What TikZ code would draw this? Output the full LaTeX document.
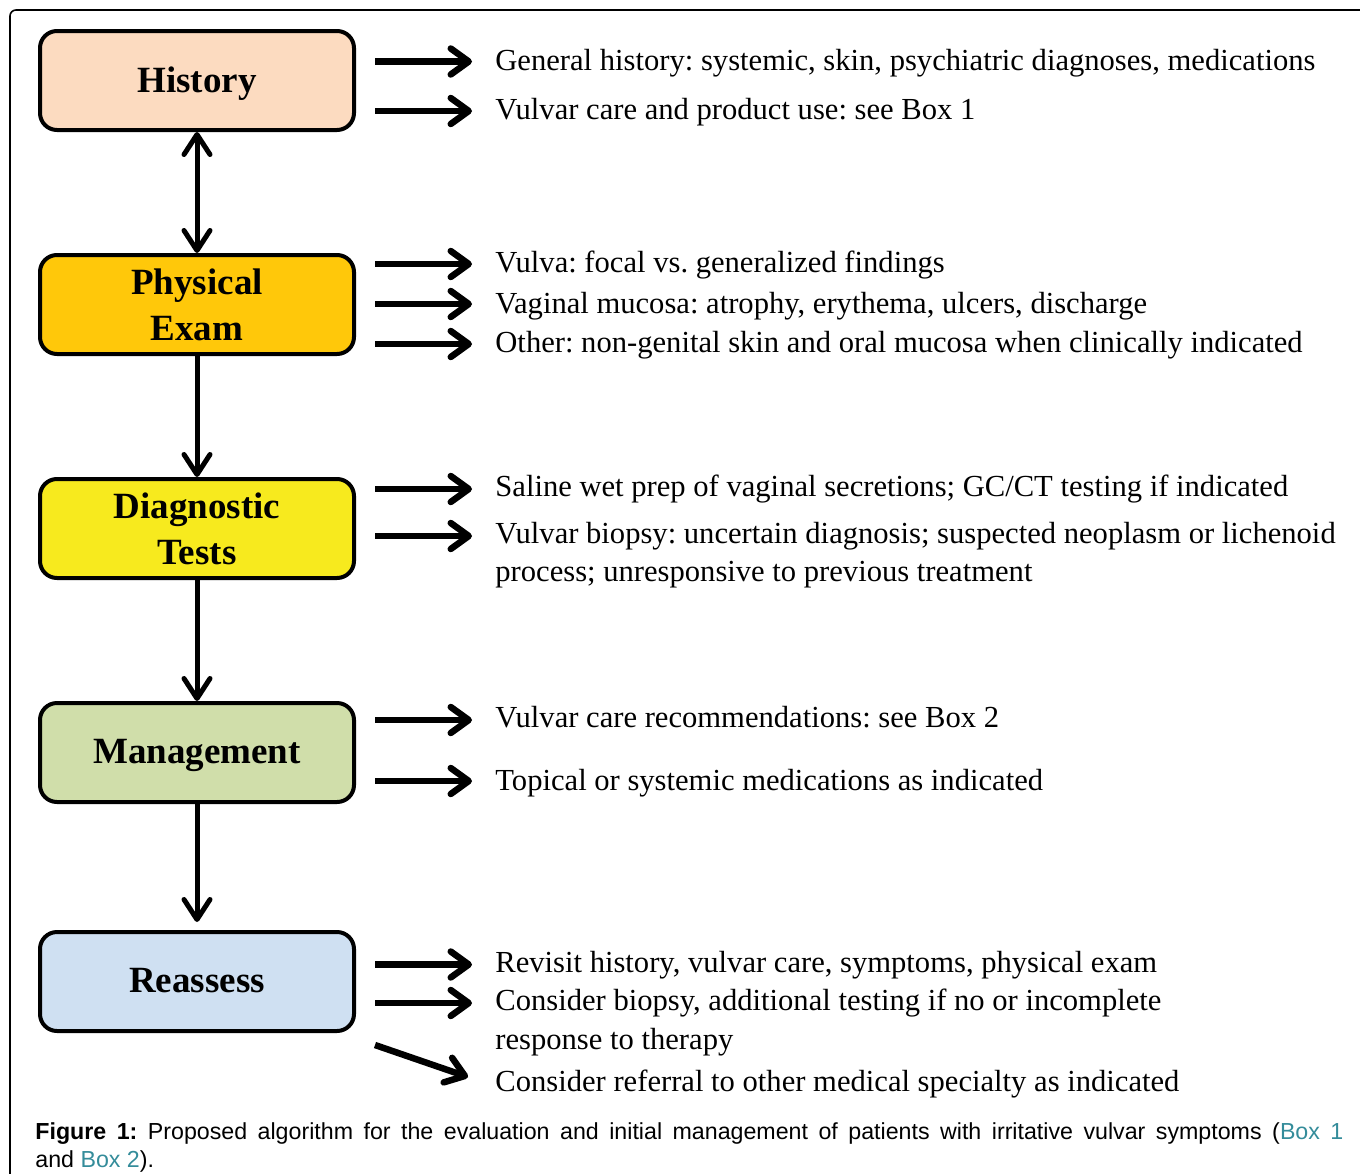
\documentclass[tikz,border=0pt]{standalone}
\usepackage{fontspec}
\setmainfont{Liberation Serif}
\newfontfamily\capfont{Liberation Sans}
\usetikzlibrary{arrows.meta}
\frenchspacing
\definecolor{histfill}{RGB}{252,219,192}
\definecolor{physfill}{RGB}{255,200,10}
\definecolor{diagfill}{RGB}{247,234,30}
\definecolor{mgmtfill}{RGB}{208,222,170}
\definecolor{reasfill}{RGB}{207,224,242}
\definecolor{boxlink}{RGB}{52,140,154}
\begin{document}
\begin{tikzpicture}[x=0.5pt,y=-0.5pt,
  stage/.style={draw,line width=2pt,rounded corners=8.5pt,minimum width=157pt,minimum height=49.5pt,align=center,font=\fontsize{18.5pt}{23pt}\selectfont\bfseries},
  item/.style={anchor=base west,inner sep=0pt,font=\fontsize{15.3pt}{19pt}\selectfont},
  flow/.style={line width=2.5pt,-{Straight Barb[length=10pt,width=13pt,line cap=round,line join=round]}},
  point/.style={line width=3.25pt,-{Straight Barb[length=9pt,width=13pt,line cap=round,line join=round]}}]
\useasboundingbox (0,0) rectangle (1360,1173);
\draw[line width=0.8pt,rounded corners=3pt] (1370,10) -- (10,10) -- (10,1180);
\node[stage,fill=histfill,text depth=1pt] (hist) at (197,80.5) {History};
\node[stage,fill=physfill] (phys) at (197,304.5) {Physical\\Exam};
\node[stage,fill=diagfill] (diag) at (197,528.5) {Diagnostic\\Tests};
\node[stage,fill=mgmtfill,text depth=1pt] (mgmt) at (197,752.5) {Management};
\node[stage,fill=reasfill,text depth=1pt] (reas) at (197,981.5) {Reassess};
\draw[line width=2.5pt,{Straight Barb[length=10pt,width=13pt,line cap=round,line join=round]}-{Straight Barb[length=10pt,width=13pt,line cap=round,line join=round]}] (hist) -- (phys);
\draw[flow] (phys) -- (diag);
\draw[flow] (diag) -- (mgmt);
\draw[flow,shorten >=4pt] (mgmt) -- (reas);
\node[item] (hist1) at (495,70) {General history: systemic, skin, psychiatric diagnoses, medications};
\node[item] (hist2) at (495,119.5) {Vulvar care and product use: see Box 1};
\node[item] (phys1) at (495,272) {Vulva: focal vs. generalized findings};
\node[item] (phys2) at (495,313) {Vaginal mucosa: atrophy, erythema, ulcers, discharge};
\node[item] (phys3) at (495,352) {Other: non-genital skin and oral mucosa when clinically indicated};
\node[item] (diag1) at (495,496) {Saline wet prep of vaginal secretions; GC/CT testing if indicated};
\node[item] (diag2) at (495,543) {Vulvar biopsy: uncertain diagnosis; suspected neoplasm or lichenoid};
\node[item] (diag2b) at (495,581) {process; unresponsive to previous treatment};
\node[item] (mgmt1) at (495,727) {Vulvar care recommendations: see Box 2};
\node[item] (mgmt2) at (495,790) {Topical or systemic medications as indicated};
\node[item] (reas1) at (495,972) {Revisit history, vulvar care, symptoms, physical exam};
\node[item] (reas2) at (495,1010) {Consider biopsy, additional testing if no or incomplete};
\node[item] (reas2b) at (495,1049) {response to therapy};
\node[item] (reas3) at (495,1091) {Consider referral to other medical specialty as indicated};
\draw[point] ([xshift=-60pt,yshift=4.25pt]hist1.base west) -- ([xshift=-11.5pt,yshift=4.25pt]hist1.base west);
\draw[point] ([xshift=-60pt,yshift=4.25pt]hist2.base west) -- ([xshift=-11.5pt,yshift=4.25pt]hist2.base west);
\draw[point] ([xshift=-60pt,yshift=4pt]phys1.base west) -- ([xshift=-11.5pt,yshift=4pt]phys1.base west);
\draw[point] ([xshift=-60pt,yshift=4.5pt]phys2.base west) -- ([xshift=-11.5pt,yshift=4.5pt]phys2.base west);
\draw[point] ([xshift=-60pt,yshift=4pt]phys3.base west) -- ([xshift=-11.5pt,yshift=4pt]phys3.base west);
\draw[point] ([xshift=-60pt,yshift=3.5pt]diag1.base west) -- ([xshift=-11.5pt,yshift=3.5pt]diag1.base west);
\draw[point] ([xshift=-60pt,yshift=3.5pt]diag2.base west) -- ([xshift=-11.5pt,yshift=3.5pt]diag2.base west);
\draw[point] ([xshift=-60pt,yshift=3.5pt]mgmt1.base west) -- ([xshift=-11.5pt,yshift=3.5pt]mgmt1.base west);
\draw[point] ([xshift=-60pt,yshift=4.5pt]mgmt2.base west) -- ([xshift=-11.5pt,yshift=4.5pt]mgmt2.base west);
\draw[point] ([xshift=-60pt,yshift=3.75pt]reas1.base west) -- ([xshift=-11.5pt,yshift=3.75pt]reas1.base west);
\draw[point] ([xshift=-60pt,yshift=3.5pt]reas2.base west) -- ([xshift=-11.5pt,yshift=3.5pt]reas2.base west);
\draw[point] ([xshift=-60pt,yshift=23pt]reas3.base west) -- ([xshift=-13.5pt,yshift=7pt]reas3.base west);
\node[anchor=base west,inner sep=0pt,text width=654pt,align=justify,font=\capfont\fontsize{11.6pt}{14pt}\selectfont] (cap) at (35,1139) {\textbf{Figure 1:} Proposed algorithm for the evaluation and initial management of patients with irritative vulvar symptoms (\textcolor{boxlink}{Box 1}\linebreak and \textcolor{boxlink}{Box 2}).};
\end{tikzpicture}
\end{document}
